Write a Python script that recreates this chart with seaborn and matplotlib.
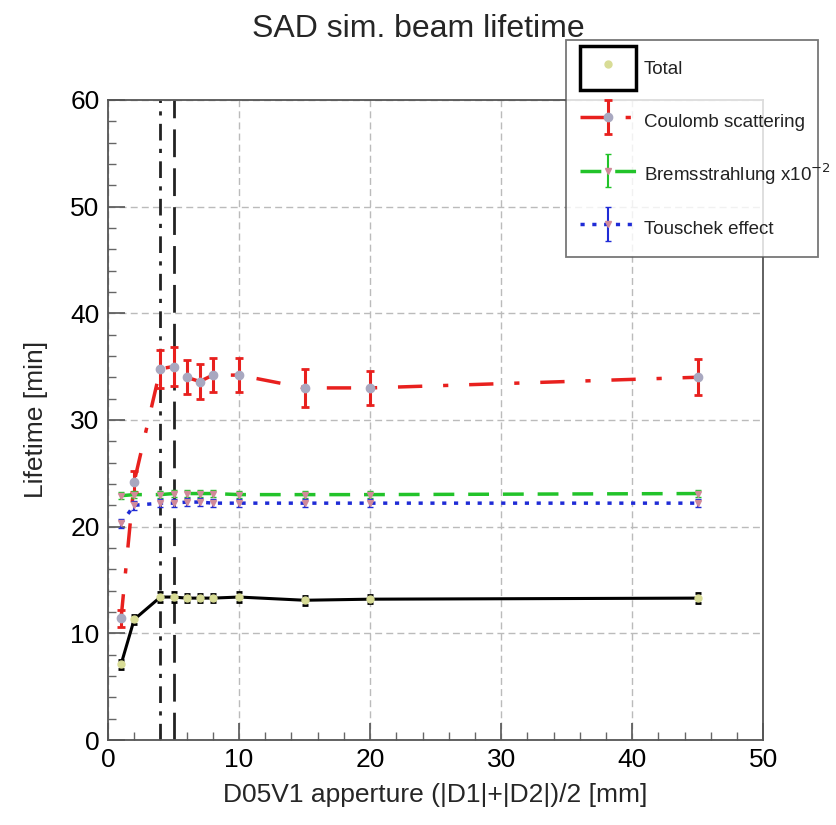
import numpy as np
import pandas as pd
import matplotlib
matplotlib.use("Agg")
import matplotlib.pyplot as plt
import seaborn as sns
from matplotlib.lines import Line2D
from matplotlib.patches import Patch, Rectangle
from matplotlib.container import ErrorbarContainer
from matplotlib.legend_handler import HandlerPatch, HandlerErrorbar

# aperture values [mm]
aperture = [1, 2, 4, 5, 6, 7, 8, 10, 15, 20, 45]

total = [7.1, 11.3, 13.4, 13.4, 13.3, 13.3, 13.3, 13.4, 13.1, 13.2, 13.3]
total_err = [0.4, 0.4, 0.5, 0.5, 0.4, 0.4, 0.4, 0.5, 0.4, 0.4, 0.5]

coulomb = [11.4, 24.2, 34.8, 35.0, 34.0, 33.6, 34.2, 34.2, 33.0, 33.0, 34.0]
coulomb_err = [0.8, 1.0, 1.8, 1.8, 1.6, 1.6, 1.6, 1.6, 1.8, 1.6, 1.7]

brems = [22.9, 23.0, 23.0, 23.1, 23.1, 23.1, 23.1, 23.0, 23.0, 23.0, 23.1]
brems_err = [0.3, 0.3, 0.3, 0.3, 0.3, 0.3, 0.3, 0.3, 0.3, 0.3, 0.3]

touschek = [20.3, 22.0, 22.2, 22.2, 22.3, 22.3, 22.2, 22.2, 22.2, 22.2, 22.2]
touschek_err = [0.4, 0.4, 0.4, 0.4, 0.4, 0.4, 0.4, 0.4, 0.4, 0.4, 0.4]

labels = ["Total", "Coulomb scattering", "Bremsstrahlung x10$^{-2}$", "Touschek effect"]

# cut positions (vertical markers)
cut_dashdot = 4
cut_dashed = 5

df = pd.DataFrame({"x": aperture, "total": total, "coulomb": coulomb,
                   "brems": brems, "touschek": touschek})

RED, GREEN, BLUE = "#e8201e", "#22c32a", "#1f2bd6"
ls_cou = (0, (7, 6, 1.5, 6))
ls_bre = (0, (6, 4))
ls_tou = (0, (1.2, 2.2))

sns.set_theme(style="ticks")
plt.rcParams["font.family"] = ["Liberation Sans", "DejaVu Sans"]

fig = plt.figure(figsize=(8.37, 8.25), dpi=100)
ax = fig.add_axes([0.129, 0.103, 0.783, 0.776])

# lines through seaborn
sns.lineplot(data=df, x="x", y="coulomb", ax=ax, color=RED, lw=2.5,
             linestyle=ls_cou, zorder=3)
sns.lineplot(data=df, x="x", y="brems", ax=ax, color=GREEN, lw=2.5,
             linestyle=ls_bre, zorder=3)
sns.lineplot(data=df, x="x", y="touschek", ax=ax, color=BLUE, lw=2.5,
             linestyle=ls_tou, zorder=3)
sns.lineplot(data=df, x="x", y="total", ax=ax, color="black", lw=2.2, zorder=3)

# error bars and markers
h_tot = ax.errorbar(aperture, total, yerr=total_err, fmt="o", ms=5,
                    mfc="#d8dc96", mec="#d8dc96", ecolor="black", elinewidth=2,
                    capsize=2.5, capthick=2, zorder=4)
h_cou = ax.errorbar(aperture, coulomb, yerr=coulomb_err, fmt="o", ms=6,
                    mfc="#a8a8c0", mec="#a8a8c0", ecolor=RED, elinewidth=2.2,
                    capsize=3, capthick=2, zorder=4)
h_bre = ax.errorbar(aperture, brems, yerr=brems_err, fmt="v", ms=5,
                    mfc="#d08a9a", mec="#d08a9a", ecolor=GREEN, elinewidth=1.5,
                    capsize=2, zorder=4)
h_tou = ax.errorbar(aperture, touschek, yerr=touschek_err, fmt="v", ms=5,
                    mfc="#d08a9a", mec="#d08a9a", ecolor=BLUE, elinewidth=1.5,
                    capsize=2, zorder=4)

ax.axvline(cut_dashdot, color="#222222", lw=2, linestyle=(0, (6, 3, 1.5, 3)), zorder=2)
ax.axvline(cut_dashed, color="#222222", lw=2, linestyle=(0, (10, 4)), zorder=2)

ax.set_xlim(0, 50)
ax.set_ylim(0, 60)
ax.set_xticks(np.arange(0, 51, 10))
ax.set_yticks(np.arange(0, 61, 10))
ax.set_xticks(np.arange(0, 51, 2), minor=True)
ax.set_yticks(np.arange(0, 61, 2), minor=True)
ax.tick_params(axis="both", which="major", labelsize=19, length=12, width=1.2,
               direction="in", colors="#555555", labelcolor="black", pad=6)
ax.tick_params(axis="both", which="minor", length=6, width=1,
               direction="in", colors="#666666")
ax.grid(True, which="major", color="#bbbbbb", linestyle=(0, (5, 3)), lw=1)
for sp in ax.spines.values():
    sp.set_color("#555555")
    sp.set_linewidth(1.3)

ax.set_xlabel("D05V1 apperture (|D1|+|D2|)/2 [mm]", fontsize=19, labelpad=8)
ax.set_ylabel("Lifetime [min]", fontsize=19, labelpad=16)
fig.text(0.5, 0.965, "SAD sim. beam lifetime", ha="center", va="center", fontsize=23)


def big_box(legend, orig_handle, xdescent, ydescent, width, height, fontsize):
    # ROOT-style fill box, a bit taller than the text row
    return Rectangle((-xdescent, -ydescent - 0.25 * height), width, height * 1.5)


# legend proxies: line style + error bar
p_tot = (Patch(facecolor="white", edgecolor="black", lw=2.5),
         Line2D([], [], ls="none", marker="o", ms=5, mfc="#d8dc96", mec="#d8dc96"))
p_cou = (Line2D([], [], color=RED, lw=2.5, ls=ls_cou), h_cou)
p_bre = (Line2D([], [], color=GREEN, lw=2.5, ls=ls_bre), h_bre)
p_tou = (Line2D([], [], color=BLUE, lw=2.5, ls=ls_tou), h_tou)

leg = fig.legend([p_tot, p_cou, p_bre, p_tou], labels,
                 loc="upper left", bbox_to_anchor=(0.676, 0.952 - 0.255, 0.301, 0.255),
                 mode="expand", fontsize=13.5, frameon=True, fancybox=False,
                 borderaxespad=0, labelspacing=1.3, handlelength=3.0,
                 handleheight=2.0, handletextpad=0.4, borderpad=0.75,
                 handler_map={Patch: HandlerPatch(patch_func=big_box),
                              ErrorbarContainer: HandlerErrorbar(yerr_size=0.9)})
leg.get_frame().set_edgecolor("#555555")
leg.get_frame().set_linewidth(1.3)
leg.set_zorder(10)
for t in leg.get_texts():
    t.set_color("#222222")

fig.savefig("out.png", dpi=100)
